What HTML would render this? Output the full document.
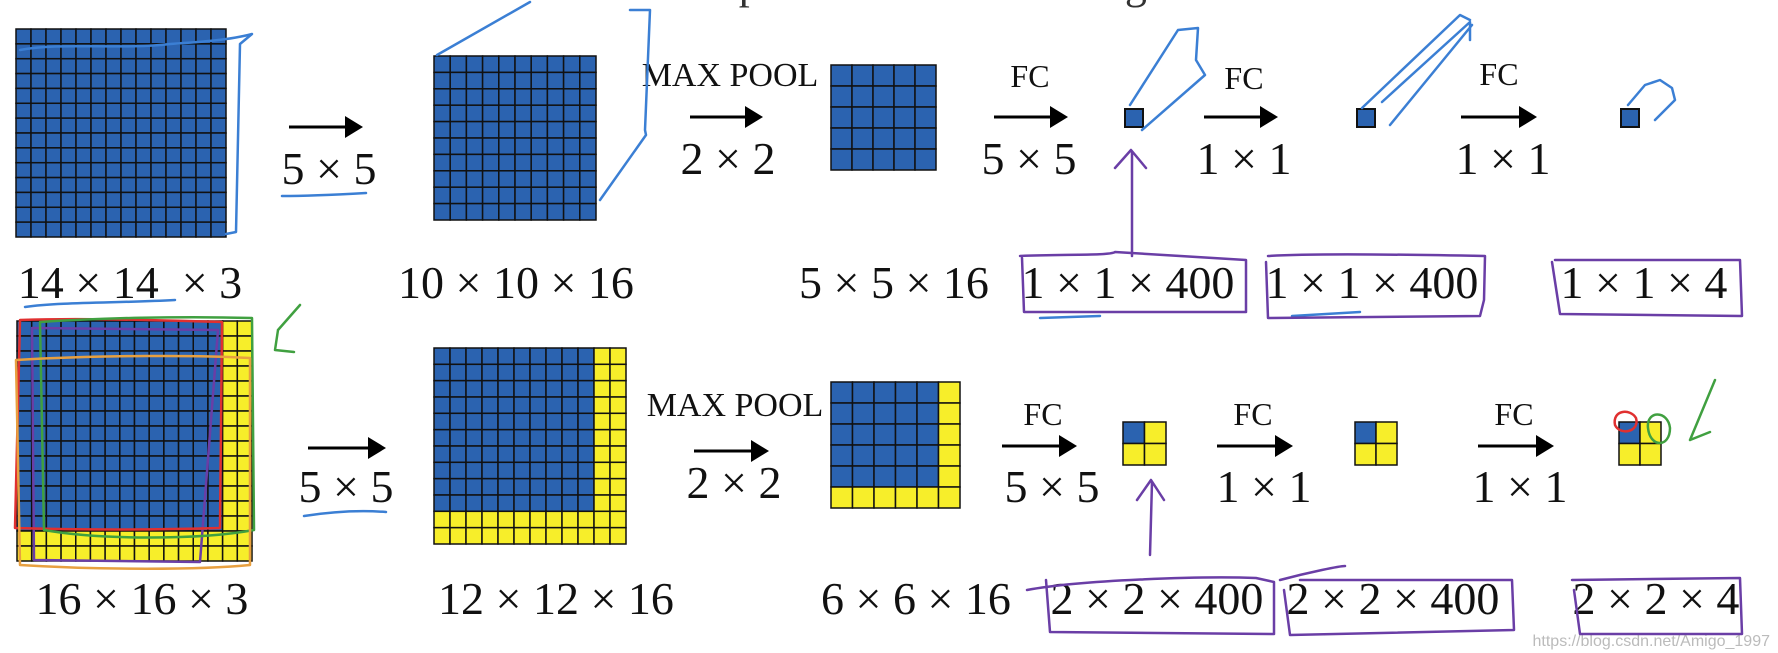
<!DOCTYPE html>
<html><head><meta charset="utf-8"><style>
html,body{margin:0;padding:0;background:#fff;width:1778px;height:653px;overflow:hidden}
svg{display:block}
text{font-family:"Liberation Serif",serif;fill:#111}
.l{font-size:46px}
.s{font-size:32px}
.m{font-size:34px}
</style></head><body>
<svg id="s" width="1778" height="653" viewBox="0 0 1778 653" xmlns="http://www.w3.org/2000/svg">
<text x="889" y="-2" text-anchor="middle" style="font-size:44px;fill:#333">Convolution implementation of sliding windows</text>
<g id="grids"></g>
<g id="arrows" stroke="#000" stroke-width="3" fill="#000"></g>
<text class="l" x="329" y="184" text-anchor="middle">5 × 5</text>
<text class="m" x="730" y="86" text-anchor="middle">MAX POOL</text>
<text class="l" x="728" y="174" text-anchor="middle">2 × 2</text>
<text class="s" x="1030" y="87" text-anchor="middle">FC</text>
<text class="l" x="1029" y="174" text-anchor="middle">5 × 5</text>
<text class="s" x="1244" y="89" text-anchor="middle">FC</text>
<text class="l" x="1244" y="174" text-anchor="middle">1 × 1</text>
<text class="s" x="1499" y="85" text-anchor="middle">FC</text>
<text class="l" x="1503" y="174" text-anchor="middle">1 × 1</text>
<text class="l" x="130" y="298" text-anchor="middle">14 × 14 &#160;× 3</text>
<text class="l" x="516" y="298" text-anchor="middle">10 × 10 × 16</text>
<text class="l" x="894" y="298" text-anchor="middle">5 × 5 × 16</text>
<text class="l" x="1128" y="298" text-anchor="middle">1 × 1 × 400</text>
<text class="l" x="1372" y="298" text-anchor="middle">1 × 1 × 400</text>
<text class="l" x="1644" y="298" text-anchor="middle">1 × 1 × 4</text>
<text class="l" x="346" y="502" text-anchor="middle">5 × 5</text>
<text class="m" x="735" y="416" text-anchor="middle">MAX POOL</text>
<text class="l" x="734" y="498" text-anchor="middle">2 × 2</text>
<text class="s" x="1043" y="425" text-anchor="middle">FC</text>
<text class="l" x="1052" y="502" text-anchor="middle">5 × 5</text>
<text class="s" x="1253" y="425" text-anchor="middle">FC</text>
<text class="l" x="1264" y="502" text-anchor="middle">1 × 1</text>
<text class="s" x="1514" y="425" text-anchor="middle">FC</text>
<text class="l" x="1520" y="502" text-anchor="middle">1 × 1</text>
<text class="l" x="142" y="614" text-anchor="middle">16 × 16 × 3</text>
<text class="l" x="556" y="614" text-anchor="middle">12 × 12 × 16</text>
<text class="l" x="916" y="614" text-anchor="middle">6 × 6 × 16</text>
<text class="l" x="1157" y="614" text-anchor="middle">2 × 2 × 400</text>
<text class="l" x="1393" y="614" text-anchor="middle">2 × 2 × 400</text>
<text class="l" x="1656" y="614" text-anchor="middle">2 × 2 × 4</text>
<text x="1770" y="646" text-anchor="end" style="font-family:'Liberation Sans',sans-serif;font-size:16px;fill:#bbb">https://blog.csdn.net/Amigo_1997</text>
<g fill="none" stroke-width="2.5" stroke-linecap="round" stroke-linejoin="round">
<g stroke="#3b7fd4">
<path d="M20,50 C60,42 120,50 170,44 C200,42 230,40 252,34 L240,44 L236,232 L226,234"/>
<path d="M282,196 C300,196 330,195 366,193"/>
<path d="M437,55 L530,2 M630,10 L650,10 L645,130 L646,135 L600,200"/>
<path d="M25,307 C60,302 120,303 175,300"/>
<path d="M304,516 C330,512 360,510 386,512"/>
<path d="M1130,105 L1178,30 L1198,28 L1196,60 L1205,75 L1142,130"/>
<path d="M1362,108 L1460,15 L1470,20 M1382,102 L1470,22 L1470,40 M1390,125 L1472,25"/>
<path d="M1628,105 L1645,85 L1660,80 L1672,88 L1675,100 L1655,120"/>
<path d="M1040,318 L1100,316 M1292,316 L1360,312"/>
</g>
<g stroke="#6a3ea6">
<path d="M1132,256 L1132,152 M1115,168 L1131,150 L1146,168"/>
<path d="M1020,256 C1060,254 1110,256 1115,252 L1246,260 L1246,312 L1024,312 L1022,258"/>
<path d="M1268,256 C1300,254 1380,254 1485,256 L1484,300 L1480,316 L1268,318 L1266,262"/>
<path d="M1555,260 L1740,260 L1742,316 L1560,314 L1552,262"/>
<path d="M1150,555 L1152,482 M1137,500 L1151,480 L1164,500"/>
<path d="M1027,590 C1080,580 1200,576 1256,578 L1274,582 L1274,634 L1050,632 L1046,580"/>
<path d="M1280,580 C1310,572 1340,566 1345,566 M1300,580 L1512,580 L1514,630 L1290,635 L1284,590"/>
<path d="M1572,580 L1740,578 L1742,634 L1580,634 L1574,590"/>
<path d="M32,328 L34,560 L200,562 L218,330 Z"/>
</g>
<path stroke="#e03030" d="M20,320 C80,318 150,320 222,322 L220,528 C150,530 80,530 15,528 Z"/>
<path stroke="#40a040" d="M40,322 C100,318 180,316 252,318 L254,530 C200,540 100,540 44,530 Z M278,330 L300,305 M278,330 L275,350 L294,352"/>
<path stroke="#e8a040" d="M16,360 C100,355 200,355 250,358 L250,565 C200,570 100,570 20,565 Z"/>
<path stroke="#e03030" d="M1615,425 C1612,410 1630,408 1636,418 C1640,432 1620,436 1615,425"/>
<path stroke="#40a040" d="M1648,428 C1646,410 1668,410 1670,428 C1670,448 1650,448 1648,428 M1690,440 L1715,380 M1690,440 L1710,432"/>
</g>
</svg>
<script>
var NS="http://www.w3.org/2000/svg",G=document.getElementById("grids");
function r(x,y,w,h,f,sw){var e=document.createElementNS(NS,"rect");e.setAttribute("x",x);e.setAttribute("y",y);e.setAttribute("width",w);e.setAttribute("height",h);e.setAttribute("fill",f);e.setAttribute("stroke","#111");e.setAttribute("stroke-width",sw||1.5);G.appendChild(e);}
function grid(x,y,w,h,n,k){var cw=w/n,ch=h/n;for(var i=0;i<n;i++)for(var j=0;j<n;j++){var yel=(i>=n-k||j>=n-k);r(x+i*cw,y+j*ch,cw,ch,yel?"#f7ee2a":"#2b63b0");}}
grid(16,29,210,208,14,0);
grid(434,56,162,164,10,0);
grid(831,65,105,105,5,0);
r(1125,109,18,18,"#2b63b0",2);r(1357,109,18,18,"#2b63b0",2);r(1621,109,18,18,"#2b63b0",2);
grid(17,321,235,240,16,2);
grid(434,348,192,196,12,2);
grid(831,382,129,126,6,1);
grid(1123,422,43,43,2,1);grid(1355,422,42,43,2,1);grid(1619,422,42,43,2,1);
var A=document.getElementById("arrows");
function ar(x1,x2,y){var l=document.createElementNS(NS,"line");l.setAttribute("x1",x1);l.setAttribute("x2",x2-14);l.setAttribute("y1",y);l.setAttribute("y2",y);A.appendChild(l);var p=document.createElementNS(NS,"path");p.setAttribute("d","M"+(x2-18)+","+(y-11)+" L"+x2+","+y+" L"+(x2-18)+","+(y+11)+"Z");p.setAttribute("stroke","none");A.appendChild(p);}
ar(289,363,127);ar(690,763,117);ar(994,1068,117);ar(1204,1278,117);ar(1461,1537,117);
ar(308,386,448);ar(694,769,451);ar(1002,1077,446);ar(1217,1293,446);ar(1478,1554,446);
</script>
</body></html>
